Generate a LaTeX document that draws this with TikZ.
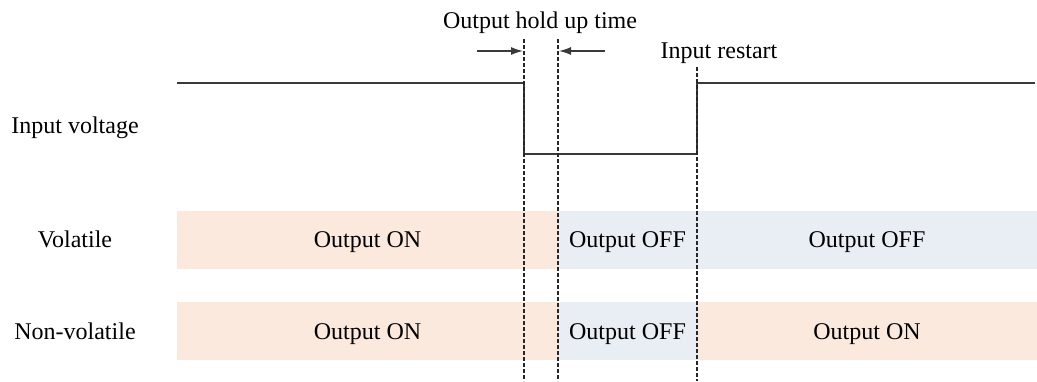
\documentclass[tikz,border=0pt]{standalone}
\usepackage{fontspec}
\setmainfont{Liberation Serif}
\usetikzlibrary{arrows.meta}
\definecolor{onfill}{HTML}{FBE9DD}
\definecolor{offfill}{HTML}{E9EDF4}
\definecolor{sig}{HTML}{3A3A3A}
\begin{document}
\begin{tikzpicture}[x=0.5pt,y=-0.5pt,
  font=\fontsize{12}{14}\selectfont,
  lbl/.style={anchor=base,inner sep=0pt},
  sigline/.style={line width=0.75pt, draw=sig},
  guide/.style={line width=0.7pt, draw=black!85, dash pattern=on 1.8pt off 1.2pt},
  hold/.style={line width=0.65pt, draw=sig, -{Latex[length=6pt,width=4pt]}}]
\useasboundingbox (0,0) rectangle (1037,381);
% bars
\fill[onfill]  (177,211) rectangle (558,269);
\fill[offfill] (558,211) rectangle (1037,269);
\fill[onfill]  (177,302) rectangle (558,360);
\fill[offfill] (558,302) rectangle (697,360);
\fill[onfill]  (697,302) rectangle (1037,360);
% input voltage signal
\coordinate (s0) at (177,83);
\coordinate (s1) at (524,83);
\coordinate (s2) at (524,154);
\coordinate (s3) at (697,154);
\coordinate (s4) at (697,83);
\coordinate (s5) at (1035,83);
\draw[sigline] (s0) -- (s1) -- (s2) -- (s3) -- (s4) -- (s5);
% labels
\node[lbl] (lin)  at (75,133) {Input voltage};
\node[lbl] (lvol) at (75,247) {Volatile};
\node[lbl] (lnv)  at (75,339) {Non-volatile};
\node[lbl] (hold) at (540,28) {Output hold up time};
\node[lbl] (rest) at (719,58) {Input restart};
% bar texts
\node[lbl] (v1) at (367.5,247) {Output ON};
\node[lbl] (v2) at (627.5,247) {Output OFF};
\node[lbl] (v3) at (867,247) {Output OFF};
\node[lbl] (n1) at (367.5,339) {Output ON};
\node[lbl] (n2) at (627.5,339) {Output OFF};
\node[lbl] (n3) at (867,339) {Output ON};
% guides
\coordinate (g1t) at (524,39);  \coordinate (g1b) at (524,381);
\coordinate (g2t) at (558,39);  \coordinate (g2b) at (558,381);
\coordinate (g3t) at (697,67);  \coordinate (g3b) at (697,381);
\draw[guide] (g1t) -- (g1b);
\draw[guide] (g2t) -- (g2b);
\draw[guide] (g3t) -- (g3b);
% hold-up arrows
\coordinate (a1s) at (477,51); \coordinate (a1e) at (523,51);
\coordinate (a2s) at (605,51); \coordinate (a2e) at (559,51);
\draw[hold] (a1s) -- (a1e);
\draw[hold] (a2s) -- (a2e);
\end{tikzpicture}
\end{document}
